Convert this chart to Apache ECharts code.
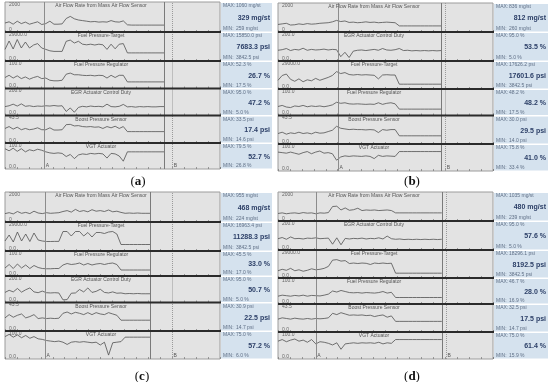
<!DOCTYPE html>
<html><head><meta charset="utf-8">
<script src="https://cdn.jsdelivr.net/npm/echarts@6/dist/echarts.min.js"></script>
<style>html,body{margin:0;padding:0;background:#fff}#c{width:550px;height:382px}</style>
</head><body><div id="c"></div>
<script>
// ---------- strip definitions (tick labels) ----------
const stripTitles = {
  air: 'Air Flow Rate from Mass Air Flow Sensor',
  fuelTarget: 'Fuel Pressure-Target',
  fuelReg: 'Fuel Pressure Regulator',
  egr: 'EGR Actuator Control Duty',
  boost: 'Boost Pressure Sensor',
  vgt: 'VGT Actuator'
};
const topLabels = { air: '2000', fuelTarget: '29000.0', fuelReg: '100.0', egr: '200.0', boost: '43.5', vgt: '100.0' };
const bottomLabels = { air: '0', fuelTarget: '0.0', fuelReg: '0.0', egr: '0.0', boost: '0.0', vgt: '0.0' };
const axisMax = { air: 2000, fuelTarget: 29000, fuelReg: 100, egr: 200, boost: 43.5, vgt: 100 };

// ---------- panel (a) ----------
const a_air = [600,680,520,720,560,660,520,600,680,500,560,720,520,520,540,900,1040,880,800,760,720,680,700,660,680,660,760,680,660,740,480,460,460,460,460,460,460,460,460,460];
const a_fuelTarget = [11600,20000,12000,21500,13000,19000,13000,16000,17400,13000,11600,10200,9600,9600,9600,19700,20900,18000,19700,16800,16200,16800,16000,16800,16200,11600,16800,12200,16800,17400,8100,8100,8100,8100,8100,8100,8100,8100,8100,8100];
const a_fuelReg = [40,48,38,46,36,42,34,40,44,36,38,30,28,28,30,52,56,50,50,48,47,48,46,48,47,38,48,40,48,48,24,24,24,24,24,24,24,24,24,24];
const a_egr = [66,72,84,70,86,68,72,66,70,68,72,70,74,70,72,30,56,24,60,68,64,70,66,68,64,84,66,64,68,82,64,66,62,66,64,66,64,64,66,66];
const a_boost = [23,26,22,25,21,23,21,22,24,21,21,24,20.5,20.5,21,29,29.5,27,27.5,26,25.5,26,25,25.5,23,26,24,26.5,23,26,18,18,18,18,18,18,18,18,18,18];
const a_vgt = [78,70,80,68,78,66,74,70,76,72,66,62,60,62,60,48,56,40,54,58,56,60,58,60,58,42,60,58,50,30,66,66,66,66,66,66,66,66,66,66];
const a_max = ['1060 mg/st','15850.0 psi','52.3 %','95.0 %','33.5 psi','79.5 %'];
const a_cur = ['329 mg/st','7683.3 psi','26.7 %','47.2 %','17.4 psi','52.7 %'];
const a_min = ['259 mg/st','3842.5 psi','17.5 %','5.0 %','14.6 psi','26.8 %'];

// ---------- panel (b) ----------
const b_air = [520,560,600,480,500,560,520,580,540,560,600,620,640,700,800,720,760,660,680,640,660,700,660,680,640,660,680,660,640,420,420,420,420,420,420,420,420,420,420,420];
const b_egr = [74,78,86,72,80,76,88,74,80,76,78,82,76,80,78,30,60,24,68,74,76,72,76,80,74,86,76,74,78,86,72,74,70,72,70,72,70,72,70,72];
const b_fuelTarget = [9000,14000,15500,10000,8000,10500,7500,9500,8500,11000,9000,10500,12000,14000,18000,16000,17000,15000,14500,15000,14500,14800,14500,14200,10500,14500,14800,14500,14500,5000,5000,5000,5000,5000,5000,5000,5000,5000,5000,5000];
const b_fuelReg = [34,38,32,30,36,34,38,33,36,34,36,33,36,40,50,46,48,44,43,44,43,42,43,42,48,42,46,48,44,24,24,24,24,24,24,24,24,24,24,24];
const b_boost = [16,18,15,17,16,18,16,17,15.5,18,16.5,17,19,21,27,24,23,22,22.5,22,22,21.5,22,21.5,17.5,22,21,22,22,12.5,12.5,12.5,12.5,12.5,12.5,12.5,12.5,12.5,12.5,12.5];
const b_vgt = [70,68,66,70,66,62,68,72,64,70,74,66,68,64,40,52,56,54,56,55,54,56,54,46,58,54,56,55,54,72,72,72,72,72,72,72,72,72,72,72];
const b_max = ['836 mg/st','95.0 %','17626.2 psi','48.2 %','30.0 psi','75.8 %'];
const b_cur = ['812 mg/st','53.5 %','17601.6 psi','48.2 %','29.5 psi','41.0 %'];
const b_min = ['260 mg/st','5.0 %','3842.5 psi','17.5 %','14.0 psi','33.4 %'];

// ---------- panel (c) ----------
const c_air = [560,620,540,700,580,640,560,720,600,560,620,580,600,620,700,760,660,840,700,760,680,820,720,760,700,800,680,720,640,580,600,580,600,580,580,580];
const c_fuelTarget = [10000,16000,9000,19000,10000,17000,9500,18000,11000,10000,9500,9500,9600,9600,19500,19500,15000,19500,19500,15000,18500,14000,18500,18500,17500,19000,19500,17000,6500,6500,6500,6500,6500,6500,6500,6500];
const c_fuelReg = [32,46,30,48,32,44,30,42,34,30,29,29,30,30,44,50,46,48,52,44,50,44,48,50,46,50,52,46,24,24,24,24,24,24,24,24];
const c_egr = [76,92,80,106,78,96,110,80,74,86,74,72,74,72,20,22,70,72,98,80,110,76,84,100,76,72,80,70,72,66,68,66,68,66,66,66];
const c_boost = [20,25,21,24,26,20,22,25,19,20,19,19.5,19,19.5,27,29,26,28.5,27,25,28,25,28,26,25,28,26,24,16.5,16.5,16.5,16.5,16.5,16.5,16.5,16.5];
const c_vgt = [80,88,78,86,76,84,74,80,72,70,66,64,62,64,60,52,60,62,60,62,60,58,60,50,60,14,58,60,62,78,78,78,78,78,78,78];
const c_max = ['955 mg/st','16963.4 psi','45.5 %','95.0 %','30.9 psi','75.0 %'];
const c_cur = ['468 mg/st','11288.3 psi','33.0 %','50.7 %','22.5 psi','57.2 %'];
const c_min = ['224 mg/st','3842.5 psi','17.0 %','5.0 %','14.7 psi','6.0 %'];

// ---------- panel (d) ----------
const d_air = [520,560,500,540,560,520,580,540,560,500,560,540,580,1000,1020,760,900,740,780,880,720,760,740,760,720,740,760,720,560,560,560,560,560,560,560,560,560,560,560,560];
const d_egr = [78,86,74,90,78,80,76,82,80,84,78,80,82,40,84,36,80,76,80,78,82,76,80,78,84,76,96,78,74,76,72,74,72,74,72,74,72,74,72,74];
const d_fuelTarget = [7500,9000,8000,10000,7500,8500,7000,8000,9500,8500,9000,10000,12000,18500,19000,17500,18000,15000,15500,15000,15500,15200,14000,15500,15000,15500,15000,15300,5000,5000,5000,5000,5000,5000,5000,5000,5000,5000,5000,5000];
const d_fuelReg = [30,34,32,30,33,31,34,30,33,32,31,34,38,50,46,52,48,44,43,44,42,44,43,42,44,48,42,45,25,25,25,25,25,25,25,25,25,25,25,25];
const d_boost = [20,22,21,20,21.5,20.5,20,21,20,21,20.5,21,22,29,27,30,28,26,26.5,26,26.5,25.5,26,24,25.5,26.5,23,25,16.5,16.5,16.5,16.5,16.5,16.5,16.5,16.5,16.5,16.5,16.5,16.5];
const d_vgt = [66,72,64,70,74,66,70,62,72,56,64,62,58,52,60,36,56,58,60,58,60,59,60,58,62,56,60,58,72,72,72,72,72,72,72,72,72,72,72,72];
const d_max = ['1035 mg/st','95.0 %','18296.1 psi','46.7 %','32.5 psi','75.0 %'];
const d_cur = ['480 mg/st','57.6 %','8192.5 psi','28.0 %','17.5 psi','61.4 %'];
const d_min = ['239 mg/st','5.0 %','3842.5 psi','16.9 %','14.7 psi','15.9 %'];

const orderAC = ['air','fuelTarget','fuelReg','egr','boost','vgt'];
const orderBD = ['air','egr','fuelTarget','fuelReg','boost','vgt'];

// cursor positions (sample units)
const panels = [
  {tag:'a', L:5, R:220, IR:272, bounds:[2,32,61,88.5,115.5,143,169], order:orderAC,
   data:[a_air,a_fuelTarget,a_fuelReg,a_egr,a_boost,a_vgt], xMax:52.7, xA:9.6, xEnd:39, xB:41,
   maxT:a_max, curT:a_cur, minT:a_min, lx:138, ly:182},
  {tag:'b', L:278, R:493, IR:548, bounds:[3,32,61,89,115.5,144,171], order:orderBD,
   data:[b_air,b_egr,b_fuelTarget,b_fuelReg,b_boost,b_vgt], xMax:51.4, xA:14.35, xEnd:39, xB:40,
   maxT:b_max, curT:b_cur, minT:b_min, lx:412, ly:182},
  {tag:'c', L:5, R:220, IR:272, bounds:[192,222,251,276,302.5,331,359], order:orderAC,
   data:[c_air,c_fuelTarget,c_fuelReg,c_egr,c_boost,c_vgt], xMax:51.9, xA:9.66, xEnd:35, xB:40.3,
   maxT:c_max, curT:c_cur, minT:c_min, lx:142, ly:377},
  {tag:'d', L:278, R:493, IR:548, bounds:[192,221,250,278,304,332,359], order:orderBD,
   data:[d_air,d_egr,d_fuelTarget,d_fuelReg,d_boost,d_vgt], xMax:51.2, xA:9.0, xEnd:39, xB:40,
   maxT:d_max, curT:d_cur, minT:d_min, lx:412, ly:377}
];

const FONT = 'Liberation Sans';
const grid = [], xAxis = [], yAxis = [], series = [], graphic = [];
let gi = 0;
panels.forEach(p => {
  p.order.forEach((key, k) => {
    const top = p.bounds[k], bot = p.bounds[k+1], h = bot - top;
    grid.push({left:p.L, top:top, width:p.R - p.L, height:h, show:true,
      backgroundColor:'#e3e3e3', borderColor:'#9c9c9c', borderWidth:1});
    xAxis.push({gridIndex:gi, type:'value', min:0, max:p.xMax, interval:p.xMax/18,
      axisLine:{show:false}, axisLabel:{show:false}, splitLine:{show:false},
      axisTick:{show:true, inside:true, length:2, lineStyle:{color:'#777', width:0.7}}});
    yAxis.push({gridIndex:gi, type:'value', min:0, max:axisMax[key], interval:axisMax[key],
      axisLine:{show:false}, axisTick:{show:false}, splitLine:{show:false},
      axisLabel:{inside:true, margin:4, fontSize:5, color:'#666', fontFamily:FONT,
        verticalAlignMinLabel:'bottom', verticalAlignMaxLabel:'top',
        formatter: v => v === 0 ? bottomLabels[key] : topLabels[key]}});
    const s = {type:'line', xAxisIndex:gi, yAxisIndex:gi, showSymbol:false, symbol:'none',
      silent:true, animation:false,
      data: p.data[k].map((v, i) => [i, v]),
      lineStyle:{color:'#505050', width:0.8},
      markLine:{silent:true, symbol:'none', animation:false, label:{show:false},
        data:[
          {xAxis:p.xA, lineStyle:{color:'#8c8c8c', type:'solid', width:1}},
          {xAxis:p.xEnd, lineStyle:{color:'#7a7a7a', type:'solid', width:1}},
          {xAxis:p.xB, lineStyle:{color:'#9a9a9a', type:[1,1], width:1}}
        ]}};
    if (k === 5) {
      s.markPoint = {silent:true, animation:false, symbol:'circle', symbolSize:1,
        itemStyle:{color:'rgba(0,0,0,0)'},
        label:{show:true, position:'right', distance:1, fontSize:5, color:'#555', fontFamily:FONT, formatter:'{b}'},
        data:[{name:'A', coord:[p.xA, 12]}, {name:'B', coord:[p.xB, 12]}]};
    }
    series.push(s);

    // strip title
    graphic.push({type:'text', x:p.L + 96, y:top + 1.5, z:60,
      style:{text:stripTitles[key], fontSize:5, fontFamily:FONT, fill:'#555', align:'center', verticalAlign:'top'}});
    // separators
    if (k > 0) {
      graphic.push({type:'line', z:55, shape:{x1:p.L, y1:top, x2:p.R + 1, y2:top},
        style:{stroke:'#2b2b2b', lineWidth:2}});
    }
    // info box
    graphic.push({type:'rect', z:1, shape:{x:p.R + 1, y:top + 1, width:p.IR - p.R - 1, height:h - 1.5},
      style:{fill:'#d5e2ee'}});
    graphic.push({type:'text', x:p.R + 3, y:top + 1.5, z:60,
      style:{text:'MAX:', fontSize:5, fontFamily:FONT, fill:'#5f6f86', verticalAlign:'top'}});
    graphic.push({type:'text', x:p.R + 16, y:top + 1.5, z:60,
      style:{text:p.maxT[k], fontSize:5, fontFamily:FONT, fill:'#5f6f86', verticalAlign:'top'}});
    graphic.push({type:'text', x:p.IR - 2, y:top + h * 0.5 + 1, z:60,
      style:{text:p.curT[k], fontSize:7, fontWeight:'bold', fontFamily:FONT, fill:'#2d4068', align:'right', verticalAlign:'middle'}});
    graphic.push({type:'text', x:p.R + 3, y:bot - 0.5, z:60,
      style:{text:'MIN:', fontSize:5, fontFamily:FONT, fill:'#5f6f86', verticalAlign:'bottom'}});
    graphic.push({type:'text', x:p.R + 16, y:bot - 0.5, z:60,
      style:{text:p.minT[k], fontSize:5, fontFamily:FONT, fill:'#5f6f86', verticalAlign:'bottom'}});
    gi++;
  });
  graphic.push({type:'text', x:p.lx, y:p.ly, z:60,
    style:{text:'{n|(}{b|' + p.tag + '}{n|)}', align:'center', verticalAlign:'middle',
      rich:{n:{fontSize:13, fontFamily:'Liberation Serif', fill:'#111'},
            b:{fontSize:13, fontFamily:'Liberation Serif', fontWeight:'bold', fill:'#111'}}}});
});

const chart = echarts.init(document.getElementById('c'), null, {renderer:'canvas'});
chart.setOption({animation:false, backgroundColor:'#ffffff', grid, xAxis, yAxis, series, graphic});
</script>
</body></html>
